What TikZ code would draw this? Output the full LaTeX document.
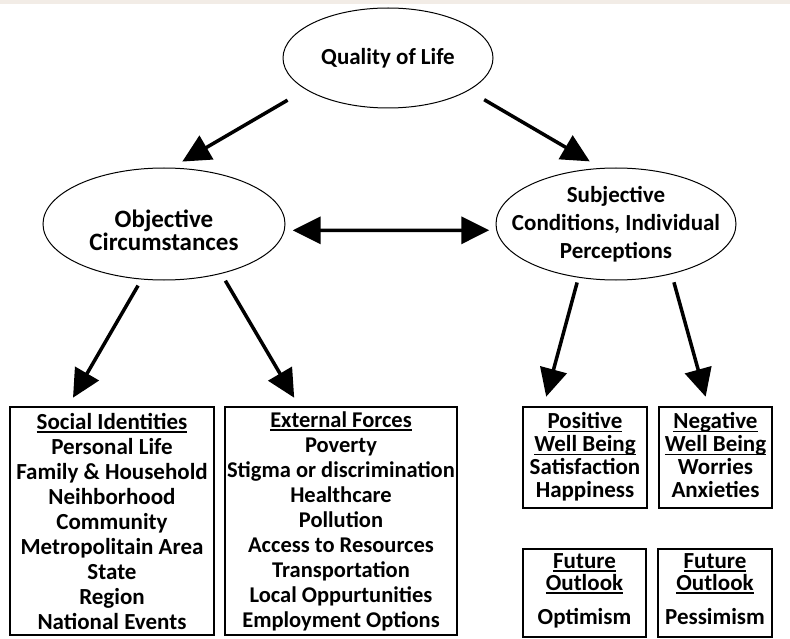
\documentclass[tikz,border=0pt]{standalone}
\usepackage{fontspec}
\setmainfont{Carlito}
\usetikzlibrary{arrows.meta, shapes.geometric}
\definecolor{topband}{RGB}{242,236,230}
\newcommand{\hdline}[1]{\leavevmode\setbox0=\hbox{#1}\copy0\llap{\rule[-3.5pt]{\wd0}{1.3pt}}}

\begin{document}
\begin{tikzpicture}[x=1pt, y=-1pt,
    every node/.style={font=\bfseries\fontsize{23}{25}\selectfont, align=center, inner sep=0pt},
    oval/.style={draw, ellipse, line width=1pt},
    listbox/.style={draw, rectangle, line width=1.3pt},
    smallbox/.style={listbox, text depth=6pt, font=\bfseries\fontsize{23}{22.7}\selectfont},
    bigarrow/.style={line width=3.5pt, -{Triangle[length=28pt, width=27pt]}}]

    % Frame
    \useasboundingbox (0,0) rectangle (790,639);
    \fill[topband] (0,0) rectangle (790,4);

    % Ovals
    \node[oval, minimum width=210pt, minimum height=100pt] (qol) at (388,58) {Quality of Life};
    \node[oval, minimum width=242pt, minimum height=112pt, text height=54pt, text depth=0pt,
          font=\bfseries\fontsize{25}{23.5}\selectfont] (obj) at (164,224) {Objective\\Circumstances};
    \node[oval, minimum width=240pt, minimum height=112pt, inner xsep=-25pt, inner ysep=-5pt,
          font=\bfseries\fontsize{23}{28}\selectfont] (subj) at (616,224) {Subjective\\Conditions, Individual\\Perceptions};

    % Objective lists
    \node[listbox, minimum width=204pt, minimum height=228pt] (soc) at (112,521)
        {\hdline{Social Identities}\\Personal Life\\Family \& Household\\Neihborhood\\Community\\Metropolitain Area\\State\\Region\\National Events};
    \node[listbox, minimum width=232pt, minimum height=228pt,
          font=\bfseries\fontsize{22.5}{25}\selectfont] (ext) at (341,521)
        {\hdline{External Forces}\\Poverty\\Stigma or discrimination\\Healthcare\\Pollution\\Access to Resources\\Transportation\\Local Oppurtunities\\Employment Options};

    % Subjective lists
    \node[smallbox, minimum width=124pt, minimum height=101pt, text height=85pt] (pos) at (585,457.5)
        {\hdline{Positive}\\\hdline{Well Being}\\Satisfaction\\Happiness};
    \node[smallbox, minimum width=113pt, minimum height=101pt, text height=85pt] (neg) at (715.5,457.5)
        {\hdline{Negative}\\\hdline{Well Being}\\Worries\\Anxieties};
    \node[smallbox, minimum width=123pt, minimum height=88pt, text height=68pt,
          font=\bfseries\fontsize{23}{22}\selectfont] (opt) at (584.5,593)
        {\hdline{Future}\\\hdline{Outlook}\\[12pt]Optimism};
    \node[smallbox, minimum width=114pt, minimum height=88pt, text height=68pt,
          font=\bfseries\fontsize{23}{22}\selectfont] (pes) at (715,593)
        {\hdline{Future}\\\hdline{Outlook}\\[12pt]Pessimism};

    % Arrows
    \draw[bigarrow, shorten <=21pt, shorten >=12pt] (qol.201) -- (obj.82);
    \draw[bigarrow, shorten <=18pt, shorten >=13pt] (qol.-22.5) -- (subj.105);
    \draw[bigarrow, {Triangle[length=28pt, width=27pt]}-{Triangle[length=28pt, width=27pt]},
          shorten <=8pt, shorten >=7pt] (obj.-3) -- (subj.183);
    \draw[bigarrow, shorten <=7pt, shorten >=10pt] (obj.248) -- (soc.111);
    \draw[bigarrow, shorten <=8pt, shorten >=10pt] (obj.-41) -- (ext.110.6);
    \draw[bigarrow, shorten <=5pt, shorten >=10pt] (subj.235.5) -- (pos.129);
    \draw[bigarrow, shorten <=8.5pt, shorten >=10pt] (subj.-42.3) -- (neg.98.7);
\end{tikzpicture}
\end{document}
